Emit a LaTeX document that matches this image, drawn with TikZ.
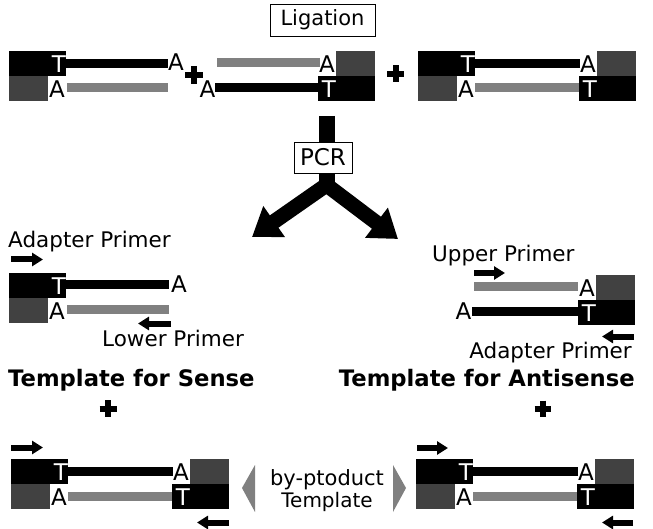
\documentclass[tikz,border=0pt]{standalone}
\usepackage{fontspec}
\setmainfont{DejaVu Sans}
\usetikzlibrary{arrows.meta}
\definecolor{strandgray}{HTML}{808080}
\definecolor{adaptgray}{HTML}{414141}

\tikzset{
  blackstrand/.style={line width=9pt, black},
  graystrand/.style={line width=9pt, strandgray},
  whiteletter/.style={text=white, inner sep=0pt, font=\fontsize{23}{23}\selectfont},
  blackletter/.style={text=black, inner sep=0pt, font=\fontsize{23}{23}\selectfont},
  primer/.style={line width=6pt, -{Triangle[length=11pt,width=13pt]}},
  plusbar/.style={line width=6pt},
  lbl/.style={inner sep=0pt, font=\fontsize{21.5}{24}\selectfont},
  ttl/.style={inner sep=0pt, font=\bfseries\fontsize{22.7}{25}\selectfont},
  stepbox/.style={draw, fill=white, line width=0.8pt, inner sep=0pt},
  sidemark/.style={fill=strandgray},
}

% adapter at the left end of a duplex (x0 = left edge, yt = top edge)
\newcommand{\adleft}[2]{%
  \fill[black] (#1,#2) rectangle (#1+57,#2+25);
  \fill[adaptgray] (#1,#2+25) rectangle (#1+39,#2+50);
  \node[whiteletter] at (#1+50,#2+13) {T};
  \node[blackletter] at (#1+48,#2+38.5) {A};
}
% adapter at the right end of a duplex
\newcommand{\adright}[2]{%
  \fill[black] (#1+161,#2+25) rectangle (#1+218,#2+50);
  \fill[adaptgray] (#1+179,#2) rectangle (#1+218,#2+25);
  \node[blackletter] at (#1+170,#2+13) {A};
  \node[whiteletter] at (#1+172,#2+38.5) {T};
}
% fully ligated duplex with adapters on both ends
\newcommand{\fullduplex}[2]{%
  \draw[blackstrand] (#1+57,#2+12.5) -- (#1+162,#2+12.5);
  \draw[graystrand] (#1+57,#2+37) -- (#1+162,#2+37);
  \adleft{#1}{#2}
  \adright{#1}{#2}
}
\newcommand{\plussign}[3]{%
  \draw[plusbar] (#1-#3,#2) -- (#1+#3,#2);
  \draw[plusbar] (#1,#2-#3) -- (#1,#2+#3);
}

\begin{document}
\begin{tikzpicture}[x=1pt,y=-1pt]
\fill[white] (0,0) rectangle (653,529);
\useasboundingbox (0,0) rectangle (653,529);

% ---------- ligation products ----------
% left-only adapter
\draw[blackstrand] (66,63.5) -- (168,63.5);
\draw[graystrand] (67,88) -- (168,88);
\adleft{9}{51}
\node[blackletter] (a1) at (176,62) {A};
\plussign{194}{75}{9}
% right-only adapter
\draw[graystrand] (217,63) -- (320,63);
\draw[blackstrand] (215,88) -- (318,88);
\adright{157}{51}
\node[blackletter] (a2) at (207.5,89) {A};
\plussign{395.5}{74}{8.5}
% both adapters
\fullduplex{418}{51}

\node[stepbox, minimum width=105pt, minimum height=32pt, font=\fontsize{21}{24}\selectfont] (lig) at (322.5,20) {Ligation};

% ---------- PCR split arrow ----------
\draw[line width=16pt] (326.5,116) -- (326.5,188);
\draw[line width=15pt, line join=miter,
      {Triangle[length=27pt,width=36pt]}-{Triangle[length=27pt,width=36pt]}]
      (252,237) -- (326.5,185) -- (398,239);
\node[stepbox, minimum width=58pt, minimum height=31pt, font=\fontsize{23}{24}\selectfont] (pcr) at (323,157.5) {PCR};

% ---------- template for sense ----------
\node[lbl, anchor=base west] (ap1) at (8,248) {Adapter Primer};
\coordinate (p1s) at (11,259.5);  \coordinate (p1e) at (43,259.5);
\draw[primer] (p1s) -- (p1e);
\draw[blackstrand] (66,284.5) -- (169,284.5);
\draw[graystrand] (67,309.5) -- (169,309.5);
\adleft{9}{273}
\node[blackletter] (a3) at (179,284) {A};
\coordinate (p2s) at (171,323.5); \coordinate (p2e) at (138,323.5);
\draw[primer] (p2s) -- (p2e);
\node[lbl, anchor=base west] (lp) at (102,346) {Lower Primer};
\node[ttl, anchor=base west] (tsense) at (8,386) {Template for Sense};
\plussign{108}{408.5}{8.5}

% ---------- template for antisense ----------
\node[lbl, anchor=base west] (up) at (432,262) {Upper Primer};
\coordinate (p3s) at (474,273); \coordinate (p3e) at (505,273);
\draw[primer] (p3s) -- (p3e);
\draw[graystrand] (474,287) -- (578,287);
\draw[blackstrand] (472,311) -- (578,311);
\adright{417}{275}
\node[blackletter] (a4) at (463.5,311.5) {A};
\coordinate (p4s) at (634,336.5); \coordinate (p4e) at (602,336.5);
\draw[primer] (p4s) -- (p4e);
\node[lbl, anchor=base east] (ap2) at (632,358) {Adapter Primer};
\node[ttl, anchor=base east] (tanti) at (635,386) {Template for Antisense};
\plussign{542.5}{408.5}{8}

% ---------- by-product templates ----------
\coordinate (p5s) at (11,447.5); \coordinate (p5e) at (43,447.5);
\draw[primer] (p5s) -- (p5e);
\fullduplex{11}{459}
\coordinate (p6s) at (229,522.5); \coordinate (p6e) at (197,522.5);
\draw[primer] (p6s) -- (p6e);

\coordinate (p7s) at (417,448); \coordinate (p7e) at (448,448);
\draw[primer] (p7s) -- (p7e);
\fullduplex{416}{459}
\coordinate (p8s) at (633,522.5); \coordinate (p8e) at (602,522.5);
\draw[primer] (p8s) -- (p8e);

\fill[sidemark] (242,488) -- (255,465) -- (255,512) -- cycle;
\fill[sidemark] (406,488) -- (393,465) -- (393,512) -- cycle;
\node[lbl, anchor=base, font=\fontsize{21}{24}\selectfont] (bp) at (327,485) {by-ptoduct};
\node[lbl, anchor=base, font=\fontsize{20}{24}\selectfont] (bt) at (327,507) {Template};
\end{tikzpicture}
\end{document}
